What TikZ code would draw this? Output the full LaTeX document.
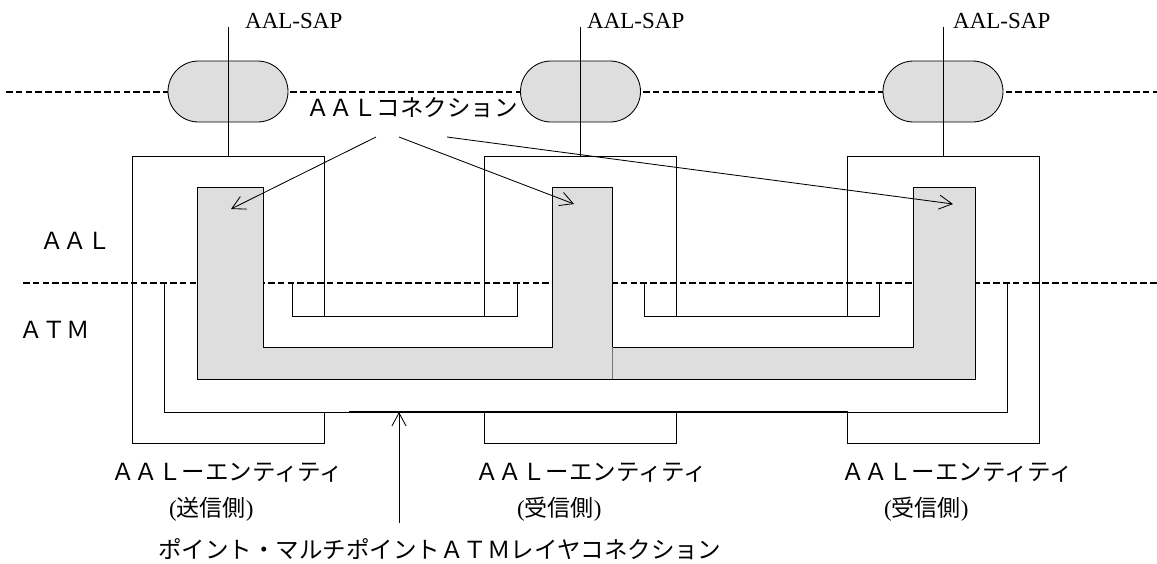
\documentclass[tikz,border=0pt]{standalone}
\usepackage{fontspec}
\setmainfont{Liberation Serif}
\newfontfamily\jpfont{Noto Sans CJK JP}
\usetikzlibrary{shapes.misc,arrows.meta}
\definecolor{pillgray}{HTML}{DEDEDE}
\newcommand\jpt[1]{{\jpfont #1}}
\tikzset{
  ln/.style={line width=0.85pt, draw=black},
  pill/.style={rounded rectangle, draw=black, line width=0.85pt, fill=pillgray,
    minimum width=120pt, minimum height=61pt, inner sep=0pt},
  entbox/.style={rectangle, draw=black, line width=0.85pt, fill=white,
    minimum width=192pt, minimum height=287pt, inner sep=0pt},
  layerdash/.style={line width=1.2pt, dash pattern=on 6.5pt off 3.3pt},
  txt/.style={anchor=base west, inner sep=0pt, font=\fontsize{23}{23}\selectfont},
  jtxt/.style={anchor=base west, inner sep=0pt, font=\fontsize{23.5}{23.5}\selectfont\jpfont},
  conarrow/.style={line width=0.85pt, -{Straight Barb[length=13pt,width=14pt]}},
}
\begin{document}
\begin{tikzpicture}[x=1pt,y=-1pt]
\useasboundingbox (0,0) rectangle (1157,563);
% top layer boundary (AAL-SAP level)
\draw[layerdash] (6,92) -- (1157,92);
% SAP pills
\node[pill] (p1) at (228,91.5) {};
\node[pill] (p2) at (580.5,91.5) {};
\node[pill] (p3) at (943,91.5) {};
% AAL entity boxes
\node[entbox] (e1) at (228,299.5) {};
\node[entbox] (e2) at (580.5,299.5) {};
\node[entbox] (e3) at (943,299.5) {};
% SAP lines
\coordinate (s1) at (228,27);
\coordinate (s2) at (580.5,27);
\coordinate (s3) at (943,27);
\draw[ln] (s1) -- (e1.north);
\draw[ln] (s2) -- (e2.north);
\draw[ln] (s3) -- (e3.north);
% ATM layer connection region (white)
\fill[white] (164,283) -- (164,412) -- (1007,412) -- (1007,283) -- (879,283) -- (879,316)
  -- (644,316) -- (644,283) -- (517,283) -- (517,316) -- (292,316) -- (292,283) -- cycle;
% AAL/ATM boundary
\draw[layerdash] (23,283) -- (1157,283);
% ATM region outline
\draw[ln] (164,283) -- (164,412) -- (1007,412) -- (1007,283);
\draw[ln] (292,283) -- (292,316) -- (517,316) -- (517,283);
\draw[ln] (644,283) -- (644,316) -- (879,316) -- (879,283);
\draw[line width=1.8pt] (349,412) -- (848,412);
% AAL connection (gray)
\filldraw[ln, fill=pillgray] (197,187) -- (197,379) -- (975,379) -- (975,187) -- (913,187)
  -- (913,347) -- (612,347) -- (612,187) -- (552,187) -- (552,347) -- (263,347) -- (263,187) -- cycle;
\draw[black!55, line width=0.5pt] (612,347) -- (612,379);
% labels
\node[txt] (sap1) at (245,28.3) {AAL-SAP};
\node[txt] (sap2) at (587,28.3) {AAL-SAP};
\node[txt] (sap3) at (953,28.3) {AAL-SAP};
\node[jtxt] (conn) at (306,116) {ＡＡＬコネクション};
\node[jtxt] (laal) at (40,249) {ＡＡＬ};
\node[jtxt] (latm) at (19,338) {ＡＴＭ};
\node[jtxt] (ent1) at (111,480) {ＡＡＬーエンティティ};
\node[jtxt] (ent2) at (475,480) {ＡＡＬーエンティティ};
\node[jtxt] (ent3) at (841,480) {ＡＡＬーエンティティ};
\node[txt] (side1) at (169,516) {(\jpt{送信側})};
\node[txt] (side2) at (517,516) {(\jpt{受信側})};
\node[txt] (side3) at (884,516) {(\jpt{受信側})};
\node[jtxt] (atmconn) at (158,558) {ポイント・マルチポイントＡＴＭレイヤコネクション};
% connection arrows
\coordinate (a1s) at (376,137);
\coordinate (a2s) at (399,137);
\coordinate (a3s) at (447,137);
\coordinate (a1e) at (231,209);
\coordinate (a2e) at (574,204);
\coordinate (a3e) at (953,204);
\draw[conarrow] (a1s) -- (a1e);
\draw[conarrow] (a2s) -- (a2e);
\draw[conarrow] (a3s) -- (a3e);
\coordinate (ups) at (399,523);
\coordinate (upe) at (399,412);
\draw[conarrow] (ups) -- (upe);
\end{tikzpicture}
\end{document}
